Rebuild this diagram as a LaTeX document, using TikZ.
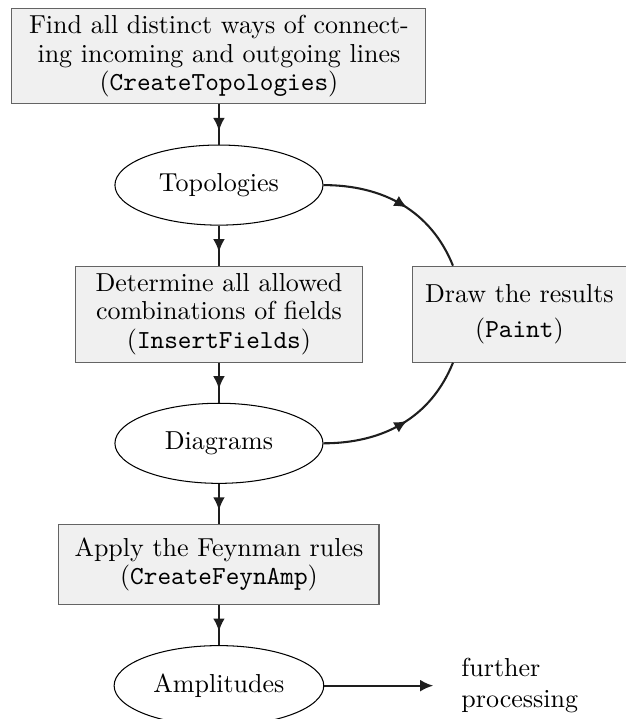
\documentclass[tikz,border=0pt]{standalone}
\usepackage{tikz}
\usetikzlibrary{shapes.geometric, arrows.meta, positioning, decorations.markings}
\definecolor{boxfill}{RGB}{240, 240, 240}
\definecolor{boxline}{RGB}{100, 100, 100}
\definecolor{flowline}{RGB}{30, 30, 30}

\tikzset{
  stepbox/.style={draw=boxline, fill=boxfill, align=center, inner xsep=3pt, inner ysep=2.5pt,
    font=\fontsize{10}{11}\selectfont},
  result/.style={draw, ellipse, minimum width=80pt, minimum height=30.8pt},
  midarrow/.style={thick, flowline, postaction={decorate},
    decoration={markings, mark=at position 0.5 with {\arrow[xshift=2.5pt]{Latex[length=5pt, width=4.5pt]}}}},
}

\begin{document}
\begin{tikzpicture}[node distance=15.4pt]
  \useasboundingbox (-84.2pt, 21.7pt) rectangle (156.5pt, -254.8pt);

  % main chain
  \node[stepbox, minimum width=159.2pt, minimum height=36.5pt] (topgen) at (0, 0)
    {Find all distinct ways of connect-\\ing incoming and outgoing lines\\(\texttt{CreateTopologies})};
  \node[result, below=of topgen] (topo) {Topologies};
  \node[stepbox, below=of topo, minimum width=110.4pt, minimum height=36.9pt] (insert)
    {Determine all allowed\\combinations of fields\\(\texttt{InsertFields})};
  \node[result, below=of insert] (diag) {Diagrams};
  \node[stepbox, below=of diag, minimum width=123.1pt, minimum height=30.8pt] (feyn)
    {Apply the Feynman rules\\(\texttt{CreateFeynAmp})};
  \node[result, below=of feyn] (amp) {Amplitudes};

  % side branch
  \node[stepbox, right=18.8pt of insert, minimum width=82.3pt, minimum height=36.9pt] (paint)
    {Draw the results\\[2.5pt](\texttt{Paint})};
  \node[align=left, right=49.2pt of amp] (further) {further\\processing};

  \coordinate (paintin) at ([xshift=15.8pt]paint.north west);
  \coordinate (paintup) at ([xshift=15.8pt]paint.south west);

  % connectors
  \draw[midarrow] (topgen) -- (topo);
  \draw[midarrow] (topo) -- (insert);
  \draw[midarrow] (insert) -- (diag);
  \draw[midarrow] (diag) -- (feyn);
  \draw[midarrow] (feyn) -- (amp);
  \draw[midarrow] (topo.east) to[out=0, in=112] (paintin);
  \draw[midarrow] (diag.east) to[out=0, in=-112] (paintup);
  \draw[thick, flowline, -{Latex[length=5pt, width=4.5pt]}, shorten >=7.3pt] (amp) -- (further);
\end{tikzpicture}
\end{document}
